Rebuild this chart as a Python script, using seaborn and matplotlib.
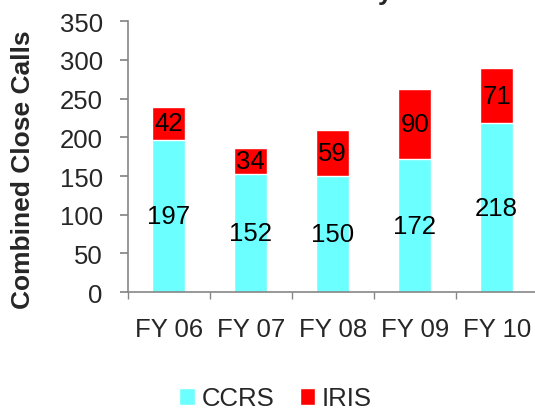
import matplotlib
matplotlib.use("Agg")
import matplotlib.pyplot as plt
import seaborn as sns
from matplotlib.patches import Patch

years = ["FY 06", "FY 07", "FY 08", "FY 09", "FY 10"]
ccrs = [197, 152, 150, 172, 218]
iris = [42, 34, 59, 90, 71]
totals = [c + i for c, i in zip(ccrs, iris)]

sns.set_theme(style="white")
plt.rcParams["font.family"] = ["Liberation Sans", "DejaVu Sans"]

cyan = "#6BFFFF"
red = "#FF0000"
grey = "#868686"

fig = plt.figure(figsize=(5.35, 4.10), dpi=100)
ax = fig.add_axes([0.239, 0.285, 0.766, 0.661])

# stacked: draw totals in red, CCRS over them in cyan
sns.barplot(x=years, y=totals, color=red, width=0.4, ax=ax, saturation=1)
sns.barplot(x=years, y=ccrs, color=cyan, width=0.4, ax=ax, saturation=1)

for i, (c, r) in enumerate(zip(ccrs, iris)):
    ax.text(i, c / 2, str(c), ha="center", va="center", fontsize=18.5, color="black")
    ax.text(i, c + r / 2, str(r), ha="center", va="center", fontsize=18.5, color="black")

ax.set_ylim(0, 350)
ax.set_xlim(-0.5, 4.5)
ax.set_yticks(range(0, 351, 50))
ax.tick_params(axis="y", labelsize=18.5, length=6, color=grey, direction="out", left=True, pad=12)
ax.set_xticks(range(5))
ax.set_xticklabels(years)
ax.tick_params(axis="x", labelsize=18.5, length=0, pad=18)
# x ticks at category boundaries
ax.set_xticks([-0.5, 0.5, 1.5, 2.5, 3.5], minor=True)
ax.tick_params(axis="x", which="minor", length=5, color=grey, direction="out", bottom=True)

for s in ["top", "right"]:
    ax.spines[s].set_visible(False)
for s in ["left", "bottom"]:
    ax.spines[s].set_color(grey)
    ax.spines[s].set_linewidth(1.2)

ax.set_ylabel("Combined Close Calls", fontsize=19, fontweight="bold")
ax.yaxis.set_label_coords(-0.227, 0.455)
ax.set_xlabel("")

handles = [Patch(facecolor=cyan, label="CCRS"), Patch(facecolor=red, label="IRIS")]
fig.legend(handles=handles, loc="lower center", bbox_to_anchor=(0.515, -0.06), ncol=2,
           frameon=False, fontsize=18.5, handlelength=0.6, handleheight=0.6,
           handletextpad=0.25, columnspacing=1.0)

# title sits above the top edge; only the descender shows, as in the source
fig.text(0.70, 1.0, "Close Calls by Fiscal Year", ha="center", va="baseline",
         fontsize=19, fontweight="bold")

fig.savefig("out.png", dpi=100)
